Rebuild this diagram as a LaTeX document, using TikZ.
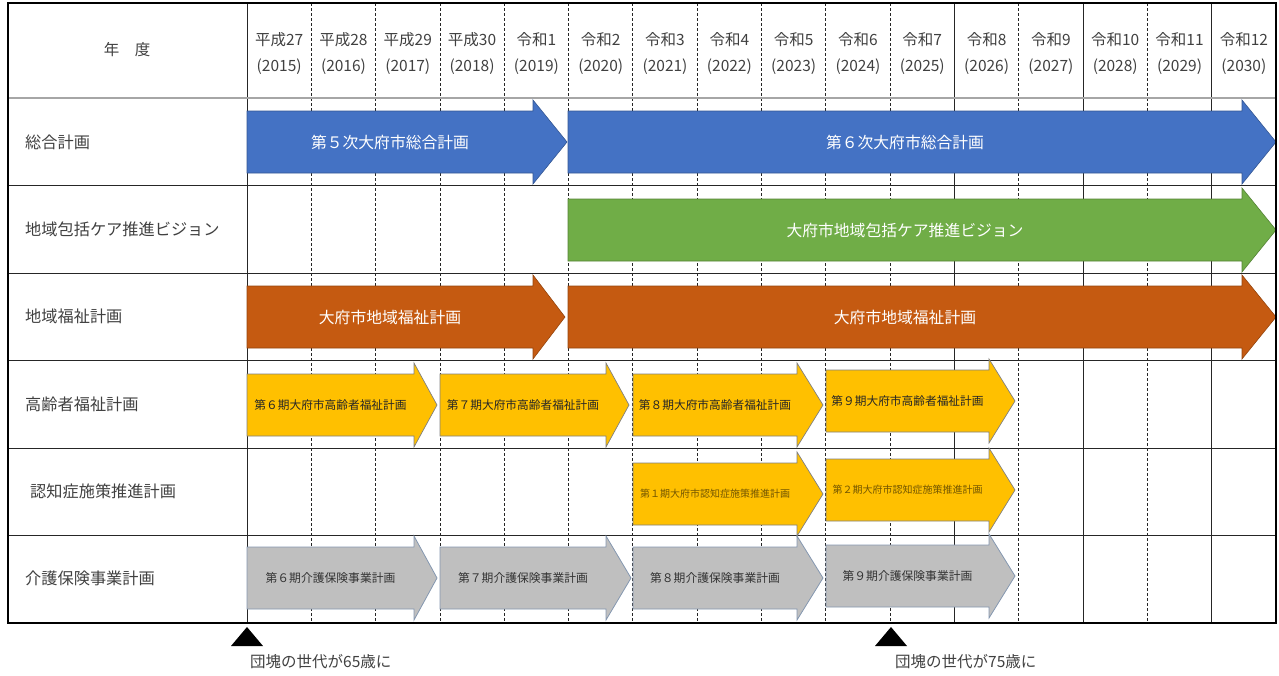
\documentclass[tikz,border=0pt]{standalone}
\usepackage{fontspec}
\setmainfont{Noto Sans CJK JP}
\usetikzlibrary{positioning}

\definecolor{planblue}{HTML}{4472C4}
\definecolor{plangreen}{HTML}{70AD47}
\definecolor{planorange}{HTML}{C55A11}
\definecolor{plangold}{HTML}{FFC000}
\definecolor{plangray}{HTML}{BFBFBF}
\definecolor{planedge}{HTML}{8497B0}
\definecolor{inkgray}{HTML}{404040}

% block arrow: style, name, x start, x tip, y centre, head length, text
\newcommand{\planarrow}[7]{%
	\draw[#1] (#3,#5-31) -- (#4-#6,#5-31) -- (#4-#6,#5-42) -- (#4,#5)
		-- (#4-#6,#5+42) -- (#4-#6,#5+31) -- (#3,#5+31) -- cycle;
	\node[#1 label] (#2) at ({(#3+#4-#6)/2},#5) {#7};
}

\begin{document}
\begin{tikzpicture}[x=1pt,y=-1pt,
		gridline/.style={line width=0.8pt,black!85},
		dashline/.style={gridline,dash pattern=on 3pt off 2pt},
		headline/.style={line width=0.7pt,black!80,double=black!35,double distance=1.2pt},
		frame/.style={line width=1.8pt,black},
		head/.style={text=inkgray,font=\fontsize{15.5}{18}\selectfont,inner sep=0pt},
		rowtitle/.style={text=inkgray,font=\fontsize{16.2}{19}\selectfont,anchor=west,inner sep=0pt},
		note/.style={text=inkgray,font=\fontsize{15.5}{18}\selectfont,anchor=west,inner sep=0pt},
		blueplan/.style={fill=planblue,draw=planblue!75!black,line width=0.6pt},
		blueplan label/.style={text=white,font=\fontsize{15.8}{18}\selectfont},
		greenplan/.style={fill=plangreen,draw=plangreen!75!black,line width=0.6pt},
		greenplan label/.style={text=white,font=\fontsize{15.8}{18}\selectfont},
		orangeplan/.style={fill=planorange,draw=planorange!75!black,line width=0.6pt},
		orangeplan label/.style={text=white,font=\fontsize{15.8}{18}\selectfont},
		goldplan/.style={fill=plangold,draw=black!50,line width=0.7pt},
		goldplan label/.style={text=black!85,font=\fontsize{11.7}{14}\selectfont},
		goldsmall/.style={goldplan},
		goldsmall label/.style={text=plangold!45!black,font=\fontsize{10}{12}\selectfont},
		grayplan/.style={fill=plangray,draw=planedge,line width=0.8pt},
		grayplan label/.style={text=black!80,font=\fontsize{11.8}{14}\selectfont}]
	\useasboundingbox (0,0) rectangle (1279,675);

	% grid
	\foreach \i in {1,...,10,12,14}
		\draw[dashline] ({247+\i*64.3125},3) -- ({247+\i*64.3125},623);
	\foreach \i in {11,13,15}
		\draw[gridline] ({247+\i*64.3125},3) -- ({247+\i*64.3125},623);
	\draw[gridline] (247,3) -- (247,623);
	\foreach \y in {185,273,360,448,535}
		\draw[gridline] (8,\y) -- (1276,\y);
	\draw[headline] (8,98) -- (1276,98);

	% header
	\node[head] (nendo) at (127,50) {年　度};
	\foreach \era [count=\i from 0] in {平成27,平成28,平成29,平成30,令和1,令和2,令和3,令和4,令和5,令和6,令和7,令和8,令和9,令和10,令和11,令和12} {
		\pgfmathtruncatemacro{\yr}{2015+\i}
		\node[head] (era\i) at ({247+(\i+0.5)*64.3125},40) {\era};
		\node[head] (yr\i) at ({247+(\i+0.5)*64.3125},67) {(\yr)};
	}

	% row titles
	\foreach \name/\x/\y [count=\r] in {総合計画/25/142,地域包括ケア推進ビジョン/25/229,地域福祉計画/25/316,高齢者福祉計画/25/404,認知症施策推進計画/30/491,介護保険事業計画/25/578}
		\node[rowtitle] (row\r) at (\x,\y) {\name};

	% plans
	\planarrow{blueplan}{sogo5}{247}{567}{142}{34}{第５次大府市総合計画}
	\planarrow{blueplan}{sogo6}{568}{1276}{142}{34}{第６次大府市総合計画}
	\planarrow{greenplan}{care}{568}{1276}{230}{34}{大府市地域包括ケア推進ビジョン}
	\planarrow{orangeplan}{fukushi1}{247}{565}{317}{32}{大府市地域福祉計画}
	\planarrow{orangeplan}{fukushi2}{568}{1276}{317}{34}{大府市地域福祉計画}
	\planarrow{goldplan}{korei6}{247}{437}{405}{23}{第６期大府市高齢者福祉計画}
	\planarrow{goldplan}{korei7}{440}{629}{405}{23}{第７期大府市高齢者福祉計画}
	\planarrow{goldplan}{korei8}{633}{823}{405}{26}{第８期大府市高齢者福祉計画}
	\planarrow{goldplan}{korei9}{826}{1015}{401}{26}{第９期大府市高齢者福祉計画}
	\planarrow{goldsmall}{ninchi1}{633}{823}{494}{26}{第１期大府市認知症施策推進計画}
	\planarrow{goldsmall}{ninchi2}{826}{1015}{490}{26}{第２期大府市認知症施策推進計画}
	\planarrow{grayplan}{kaigo6}{247}{437}{578}{23}{第６期介護保険事業計画}
	\planarrow{grayplan}{kaigo7}{440}{631}{578}{25}{第７期介護保険事業計画}
	\planarrow{grayplan}{kaigo8}{633}{823}{578}{26}{第８期介護保険事業計画}
	\planarrow{grayplan}{kaigo9}{826}{1015}{576}{26}{第９期介護保険事業計画}

	\draw[frame] (8,3) rectangle (1276,623);

	% markers
	\coordinate (m65) at (247,627);
	\coordinate (m75) at (891,627);
	\fill (m65) -- ++(16,19) -- ++(-32,0) -- cycle;
	\fill (m75) -- ++(16,19) -- ++(-32,0) -- cycle;
	\node[note] (c65) at (250,662) {団塊の世代が65歳に};
	\node[note] (c75) at (895,662) {団塊の世代が75歳に};
\end{tikzpicture}
\end{document}
